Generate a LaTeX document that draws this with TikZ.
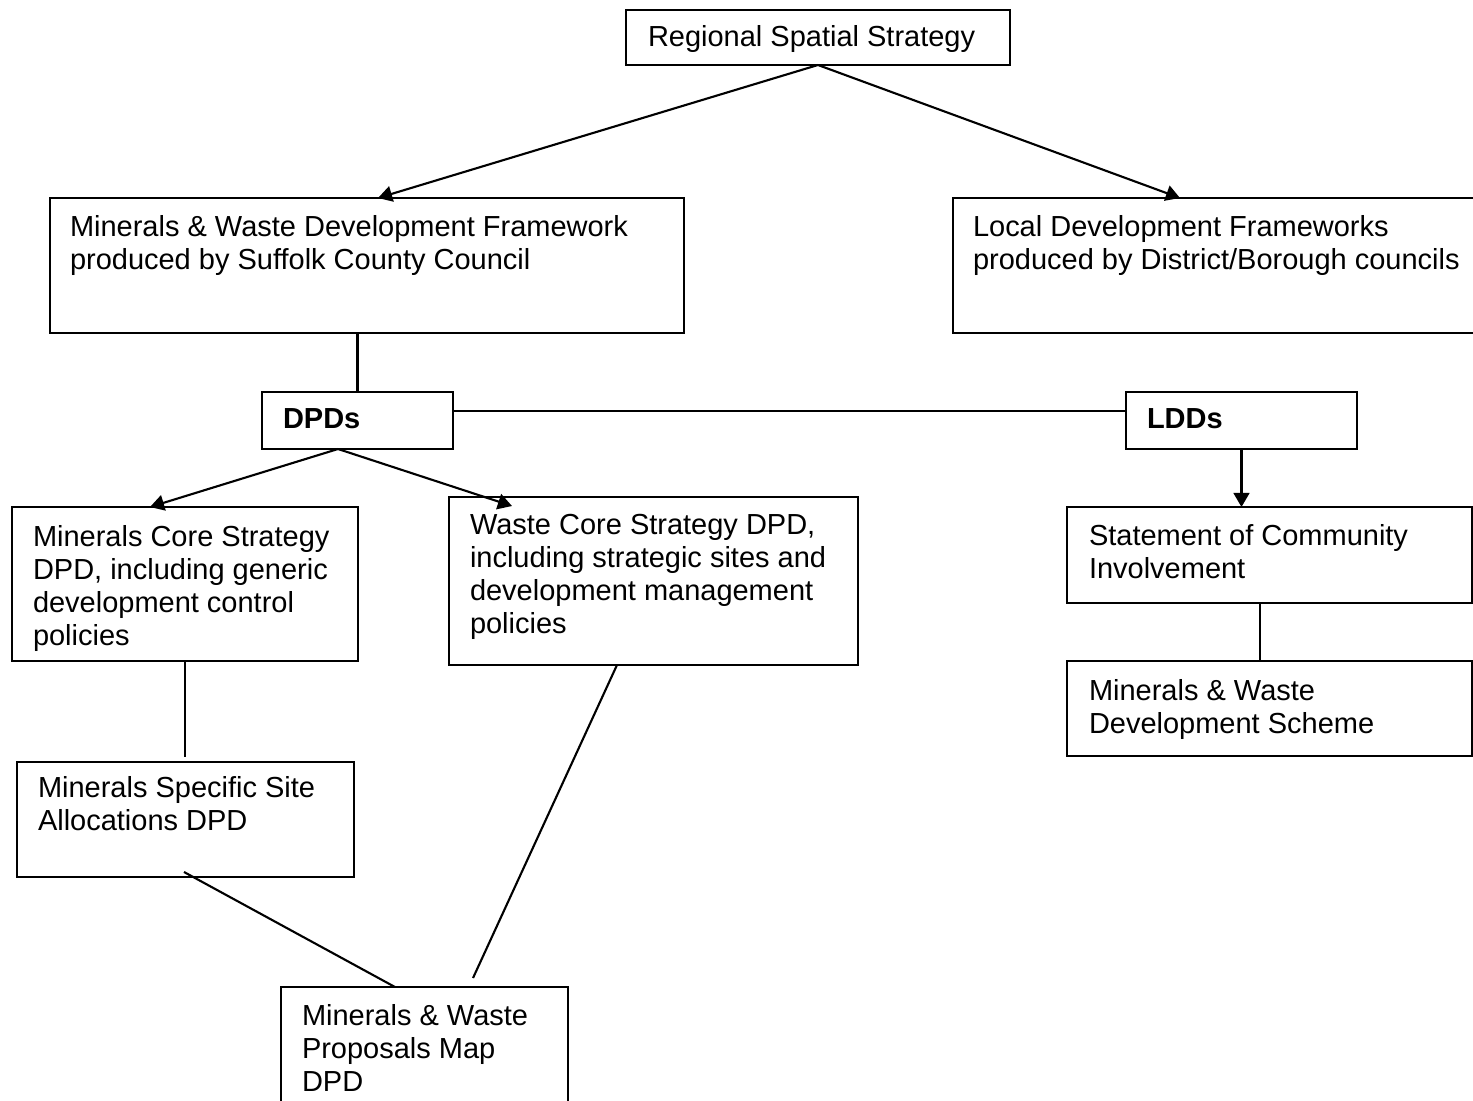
\documentclass[tikz,border=0pt]{standalone}
\usepackage{fontspec}
\setmainfont{Liberation Sans}
\usetikzlibrary{arrows.meta,positioning,calc}
\tikzset{
	box/.style={draw, anchor=north west, inner sep=0, outer sep=0},
	txt/.style={anchor=north west, inner sep=0, outer sep=0, align=left},
}

\begin{document}
\begin{tikzpicture}[x=0.02cm, y=-0.02cm, line width=1.2pt,
			>={Triangle[length=8pt,width=9pt]},
			font=\fontsize{16.5}{18.9}\selectfont]
			\useasboundingbox (0,0) rectangle (1473,1100);
			\clip (0,0) rectangle (1473,1100);
			% boxes
			\node[box, minimum width=7.68cm, minimum height=1.10cm] (rss) at (626,10) {};
			\node[box, minimum width=12.68cm, minimum height=2.70cm] (mwdf) at (50,198) {};
			\node[box, minimum width=10.74cm, minimum height=2.70cm] (ldf) at (953,198) {};
			\node[box, minimum width=3.82cm, minimum height=1.14cm] (dpds) at (262,392) {};
			\node[box, minimum width=4.62cm, minimum height=1.14cm] (ldds) at (1126,392) {};
			\node[box, minimum width=6.92cm, minimum height=3.08cm] (mcs) at (12,507) {};
			\node[box, minimum width=8.18cm, minimum height=3.36cm] (wcs) at (449,497) {};
			\node[box, minimum width=8.10cm, minimum height=1.92cm] (sci) at (1067,507) {};
			\node[box, minimum width=8.10cm, minimum height=1.90cm] (mwds) at (1067,661) {};
			\node[box, minimum width=6.74cm, minimum height=2.30cm] (mssa) at (17,762) {};
			\node[box, minimum width=5.74cm, minimum height=2.60cm] (mwpm) at (281,987) {};
			% texts
			\node[txt] (rss-t) at ($(rss.north west)+(22,15)$) {Regional Spatial Strategy};
			\node[txt] (mwdf-t) at ($(mwdf.north west)+(20,17)$) {Minerals \& Waste Development Framework\\produced by Suffolk County Council};
			\node[txt] (ldf-t) at ($(ldf.north west)+(20,17)$) {Local Development Frameworks\\produced by District/Borough councils};
			\node[txt] (dpds-t) at ($(dpds.north west)+(21,17)$) {\textbf{DPDs}};
			\node[txt] (ldds-t) at ($(ldds.north west)+(21,17)$) {\textbf{LDDs}};
			\node[txt] (mcs-t) at ($(mcs.north west)+(21,18)$) {Minerals Core Strategy\\DPD, including generic\\development control\\policies};
			\node[txt] (wcs-t) at ($(wcs.north west)+(21,17)$) {Waste Core Strategy DPD,\\including strategic sites and\\development management\\policies};
			\node[txt] (sci-t) at ($(sci.north west)+(22,17)$) {Statement of Community\\Involvement};
			\node[txt] (mwds-t) at ($(mwds.north west)+(22,18)$) {Minerals \& Waste\\Development Scheme};
			\node[txt] (mssa-t) at ($(mssa.north west)+(21,14)$) {Minerals Specific Site\\Allocations DPD};
			\node[txt] (mwpm-t) at ($(mwpm.north west)+(21,17)$) {Minerals \& Waste\\Proposals Map\\DPD};
			% connectors
			\path (rss.south) edge[->] ($(mwdf.north west)+(328,0)$);
			\path (rss.south) edge[->] ($(ldf.north west)+(227,0)$);
			\path (dpds.north) edge (dpds.north |- mwdf.south);
			\path ($(dpds.north east)+(0,19)$) edge ($(ldds.north west)+(0,19)$);
			\path ($(dpds.south west)+(76,0)$) edge[->] ($(mcs.north west)+(138,0)$);
			\path ($(dpds.south west)+(76,0)$) edge[->] ($(wcs.north west)+(63,9)$);
			\path (ldds.south) edge[->] (ldds.south |- sci.north);
			\path (mcs.south) edge ($(mcs.south |- mssa.north)+(0,-5)$);
			\path ($(sci.south west)+(193,0)$) edge ($(sci.south west |- mwds.north)+(193,0)$);
			\path ($(mssa.south west)+(167,-5)$) edge ($(mwpm.north west)+(114,0)$);
			\path ($(wcs.south west)+(168,0)$) edge ($(mwpm.north west)+(192,-9)$);
		\end{tikzpicture}
\end{document}
